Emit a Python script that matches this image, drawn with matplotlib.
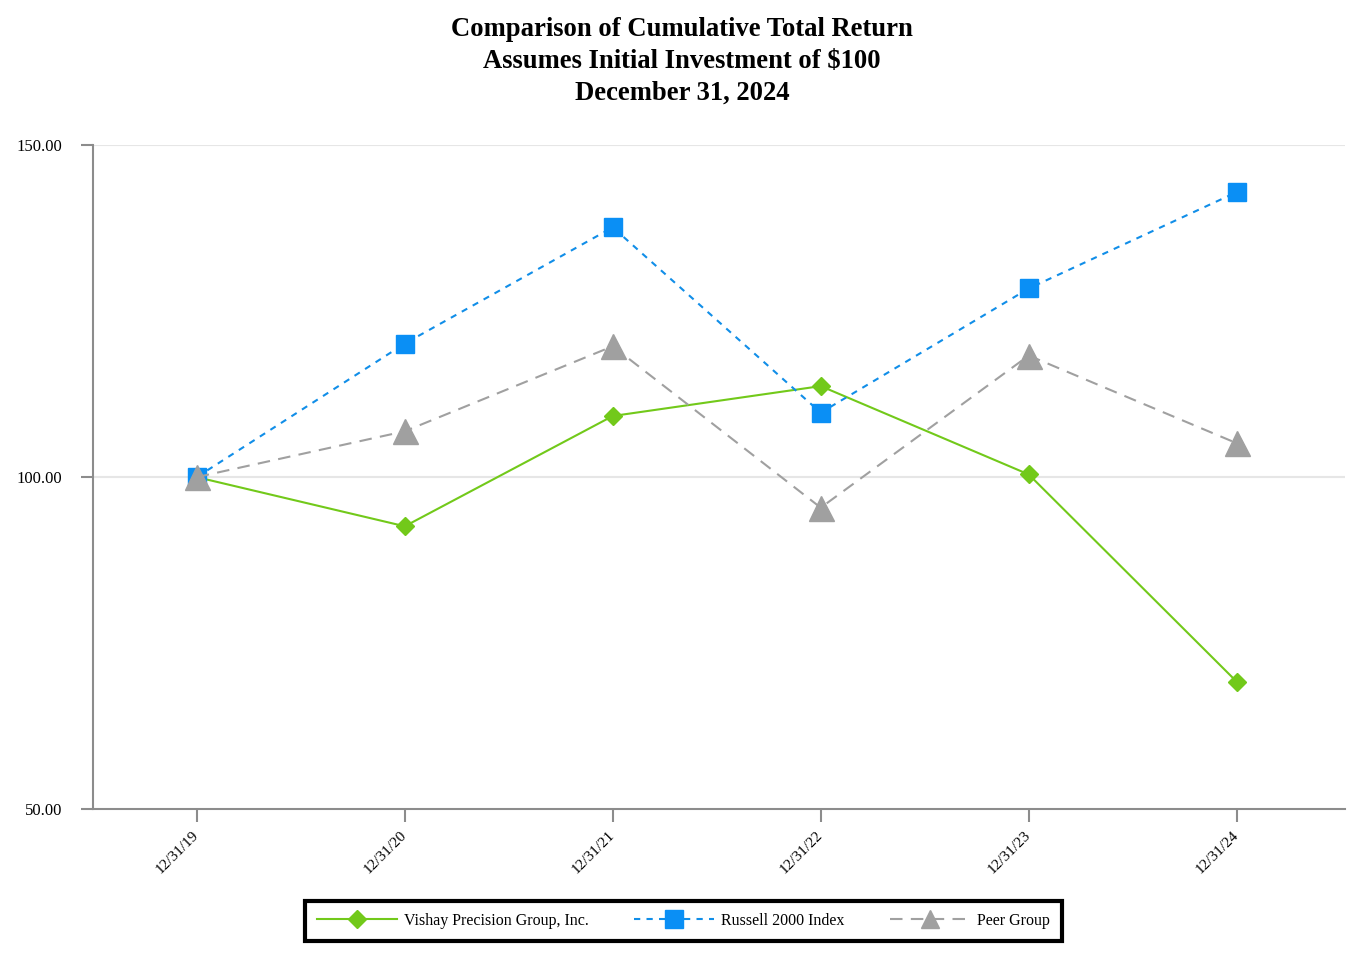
import matplotlib.pyplot as plt
from matplotlib.lines import Line2D

# data
dates = ["12/31/19", "12/31/20", "12/31/21", "12/31/22", "12/31/23", "12/31/24"]
vishay = [100.0, 92.6, 109.2, 113.7, 100.4, 69.2]
russell = [100.0, 120.1, 137.6, 109.7, 128.4, 142.9]
peer = [100.0, 106.9, 119.7, 95.4, 118.3, 105.1]
title_lines = ['Comparison of Cumulative Total Return',
               'Assumes Initial Investment of $100',
               'December 31, 2024']

plt.rcParams['font.family'] = ['Liberation Serif', 'DejaVu Serif']

fig = plt.figure(figsize=(13.64, 9.6), dpi=100)
ax = fig.add_axes([0.068, 0.157, 0.918, 0.692])

x = range(len(dates))
ax.plot(x, vishay, color='#72c91a', lw=1.5, marker='D', ms=9, zorder=3,
        label='Vishay Precision Group, Inc.')
ax.plot(x, russell, color='#118ee8', lw=1.5, ls=(0, (3, 3)), marker='s', ms=13,
        markerfacecolor='#0a8ff5', markeredgecolor='#0a8ff5', zorder=4,
        label='Russell 2000 Index')
ax.plot(x, peer, color='#a0a0a0', lw=1.5, ls=(0, (6, 4)), marker='^', ms=18,
        zorder=5, label='Peer Group')

ax.set_xlim(-0.5, 5.52)
ax.set_ylim(50, 150)
ax.set_yticks([50, 100, 150])
ax.set_yticklabels(['50.00', '100.00', '150.00'], fontsize=12)
ax.set_xticks(list(x))
ax.set_xticklabels(dates, rotation=45, ha='right', va='center',
                   rotation_mode='anchor', fontsize=11)

for y in [100, 150]:
    ax.axhline(y, color='#e6e6e6', lw=1.5, zorder=0)

for side in ['top', 'right']:
    ax.spines[side].set_visible(False)
for side in ['left', 'bottom']:
    ax.spines[side].set_color('#8c8c8c')
    ax.spines[side].set_linewidth(1.5)
ax.tick_params(axis='both', color='#8c8c8c', width=1.5, length=9)
ax.tick_params(axis='y', pad=13)
ax.tick_params(axis='x', pad=8)

# title, one line at a time so the spacing stays even
for i, line in enumerate(title_lines):
    fig.text(0.5, 1 - (29 + 32 * i) / 960, line, ha='center', va='center',
             fontsize=19.2, fontweight='bold')

handles = [
    Line2D([], [], color='#72c91a', lw=1.5, marker='D', ms=9),
    Line2D([], [], color='#118ee8', lw=1.5, ls=(0, (3, 3)), marker='s', ms=13,
           markerfacecolor='#0a8ff5', markeredgecolor='#0a8ff5'),
    Line2D([], [], color='#a0a0a0', lw=1.5, ls=(0, (6, 4)), marker='^', ms=13),
]
leg = fig.legend(handles, ['Vishay Precision Group, Inc.', 'Russell 2000 Index', 'Peer Group'],
                 loc='center', bbox_to_anchor=(0.501, 0.041), ncol=3, fontsize=11.5,
                 frameon=True, fancybox=False, handlelength=5, handletextpad=0.45,
                 columnspacing=2.85, borderpad=0.75, edgecolor='black', framealpha=1)
leg.get_frame().set_linewidth(3)

fig.savefig('out.png', dpi=100)
